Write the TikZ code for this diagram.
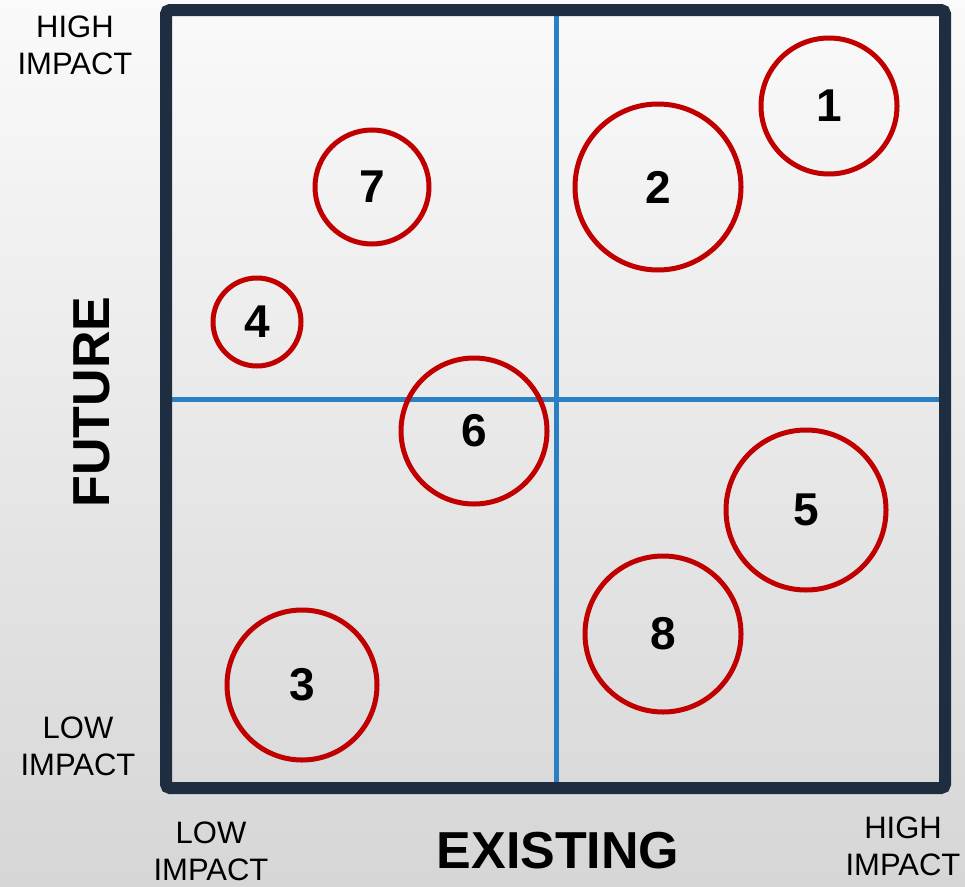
\documentclass[tikz,border=0pt]{standalone}
\usepackage{fontspec}
\setmainfont{Liberation Sans}
\definecolor{framec}{HTML}{1F2D40}
\definecolor{axisc}{HTML}{2A80C2}
\definecolor{ringc}{HTML}{C00000}
\definecolor{bgtop}{HTML}{FAFAFA}
\definecolor{bgbot}{HTML}{D6D6D6}
\begin{document}
\begin{tikzpicture}[x=1pt,y=-1pt,
  ring/.style={circle,draw=ringc,line width=5pt,inner sep=0pt,font=\fontsize{46}{46}\selectfont\bfseries},
  lbl/.style={align=center,font=\fontsize{31}{37}\selectfont},
  axislbl/.style={font=\fontsize{52}{52}\selectfont\bfseries}]
\useasboundingbox (0,0) rectangle (965,886);
\shade[top color=bgtop,bottom color=bgbot] (0,0) rectangle (965,886);
% quadrant lines
\coordinate (vt) at (556,10);
\coordinate (vb) at (556,788);
\coordinate (hl) at (166,399);
\coordinate (hr) at (945,399);
\draw[axisc,line width=5pt] (vt) -- (vb);
\draw[axisc,line width=5pt] (hl) -- (hr);
% frame
\draw[framec,line width=12pt,rounded corners=4pt] (166,10) rectangle (945,788);
% circles
\node[ring,minimum size=136pt] (c1) at (829,106) {1};
\node[ring,minimum size=166pt] (c2) at (658,187) {2};
\node[ring,minimum size=114pt] (c7) at (372,187) {7};
\node[ring,minimum size=88pt] (c4) at (257,322) {4};
\node[ring,minimum size=146pt] (c6) at (474,431) {6};
\node[ring,minimum size=160pt] (c5) at (806,510) {5};
\node[ring,minimum size=156pt] (c8) at (663,634) {8};
\node[ring,minimum size=150pt] (c3) at (302,685) {3};
% labels
\node[lbl] (hi1) at (75,45) {HIGH\\IMPACT};
\node[lbl] (lo1) at (78,746) {LOW\\IMPACT};
\node[lbl] (lo2) at (211,851) {LOW\\IMPACT};
\node[lbl] (hi2) at (903,846) {HIGH\\IMPACT};
\node[axislbl,anchor=base,inner sep=0pt] (ex) at (558,868) {EXISTING};
\node[axislbl,rotate=90,anchor=base,inner sep=0pt] (fu) at (109,402) {FUTURE};
\end{tikzpicture}
\end{document}
